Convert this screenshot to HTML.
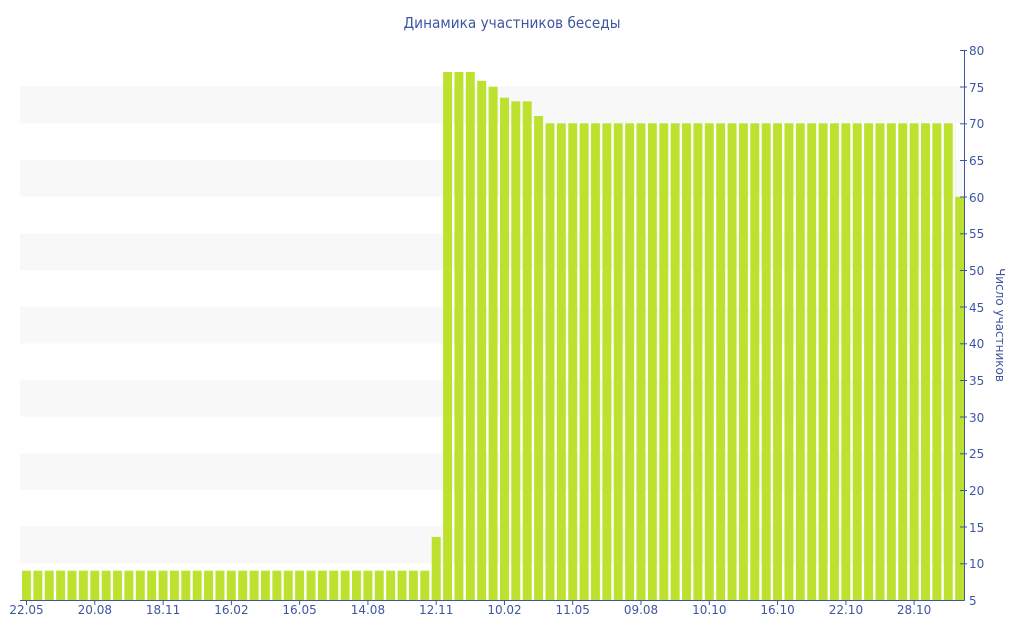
<!DOCTYPE html>
<html><head><meta charset="utf-8"><style>html,body{margin:0;padding:0;background:#fff}svg{display:block}</style></head>
<body>
<svg width="1024" height="640" viewBox="0 0 1024 640" xmlns="http://www.w3.org/2000/svg" font-family="'DejaVu Sans','Liberation Sans',sans-serif">
<defs>
<pattern id="bp" patternUnits="userSpaceOnUse" x="22" y="0" width="11.38" height="640">
<rect x="0" y="0" width="9" height="640" fill="#bde12f"/>
</pattern>
</defs>
<rect width="1024" height="640" fill="#fff"/>
<g fill="#f8f8f8">
<rect x="20" y="86.7" width="944" height="36.7"/>
<rect x="20" y="160" width="944" height="36.7"/>
<rect x="20" y="233.3" width="944" height="36.7"/>
<rect x="20" y="306.7" width="944" height="36.7"/>
<rect x="20" y="380" width="944" height="36.7"/>
<rect x="20" y="453.3" width="944" height="36.7"/>
<rect x="20" y="526.7" width="944" height="36.7"/>
</g>
<text x="512" y="28" text-anchor="middle" font-size="15" fill="#3e56a2" textLength="217" lengthAdjust="spacingAndGlyphs">Динамика участников беседы</text>
<rect x="22" y="570.7" width="409.7" height="29.3" fill="url(#bp)"/>
<rect x="545.5" y="123.3" width="409.7" height="476.7" fill="url(#bp)"/>
<g fill="#bde12f">
<rect x="431.7" y="536.9" width="9" height="63.1"/>
<rect x="443.1" y="72" width="9" height="528"/>
<rect x="454.4" y="72" width="9" height="528"/>
<rect x="465.8" y="72" width="9" height="528"/>
<rect x="477.2" y="80.8" width="9" height="519.2"/>
<rect x="488.6" y="86.7" width="9" height="513.3"/>
<rect x="500.0" y="97.7" width="9" height="502.3"/>
<rect x="511.3" y="101.3" width="9" height="498.7"/>
<rect x="522.7" y="101.3" width="9" height="498.7"/>
<rect x="534.1" y="116" width="9" height="484"/>
<rect x="955.2" y="196.7" width="9" height="403.3"/>
</g>
<g stroke="#3e56a2" stroke-width="1" fill="none">
<line x1="20" y1="600.5" x2="964.5" y2="600.5"/>
<line x1="964.5" y1="50" x2="964.5" y2="600.5"/>
</g>
<g stroke="#3e56a2" stroke-width="1">
<line x1="26.5" y1="600" x2="26.5" y2="605"/><line x1="94.8" y1="600" x2="94.8" y2="605"/><line x1="163.1" y1="600" x2="163.1" y2="605"/><line x1="231.4" y1="600" x2="231.4" y2="605"/><line x1="299.6" y1="600" x2="299.6" y2="605"/><line x1="367.9" y1="600" x2="367.9" y2="605"/><line x1="436.2" y1="600" x2="436.2" y2="605"/><line x1="504.5" y1="600" x2="504.5" y2="605"/><line x1="572.7" y1="600" x2="572.7" y2="605"/><line x1="641" y1="600" x2="641" y2="605"/><line x1="709.3" y1="600" x2="709.3" y2="605"/><line x1="777.6" y1="600" x2="777.6" y2="605"/><line x1="845.9" y1="600" x2="845.9" y2="605"/><line x1="914.1" y1="600" x2="914.1" y2="605"/>
</g>
<g stroke="#3e56a2" stroke-width="1">
<line x1="960" y1="50.5" x2="967" y2="50.5"/><line x1="960" y1="87" x2="967" y2="87"/><line x1="960" y1="123.8" x2="967" y2="123.8"/><line x1="960" y1="160.5" x2="967" y2="160.5"/><line x1="960" y1="197" x2="967" y2="197"/><line x1="960" y1="233.8" x2="967" y2="233.8"/><line x1="960" y1="270.5" x2="967" y2="270.5"/><line x1="960" y1="307" x2="967" y2="307"/><line x1="960" y1="343.8" x2="967" y2="343.8"/><line x1="960" y1="380.5" x2="967" y2="380.5"/><line x1="960" y1="417" x2="967" y2="417"/><line x1="960" y1="453.8" x2="967" y2="453.8"/><line x1="960" y1="490.5" x2="967" y2="490.5"/><line x1="960" y1="527" x2="967" y2="527"/><line x1="960" y1="563.8" x2="967" y2="563.8"/>
</g>
<g font-size="12" fill="#3e56a2" text-anchor="middle">
<text x="26.5" y="614">22.05</text><text x="94.8" y="614">20.08</text><text x="163.1" y="614">18.11</text><text x="231.4" y="614">16.02</text><text x="299.6" y="614">16.05</text><text x="367.9" y="614">14.08</text><text x="436.2" y="614">12.11</text><text x="504.5" y="614">10.02</text><text x="572.7" y="614">11.05</text><text x="641" y="614">09.08</text><text x="709.3" y="614">10.10</text><text x="777.6" y="614">16.10</text><text x="845.9" y="614">22.10</text><text x="914.1" y="614">28.10</text>
</g>
<g font-size="12" fill="#3e56a2">
<text x="969" y="55">80</text><text x="969" y="92">75</text><text x="969" y="128">70</text><text x="969" y="165">65</text><text x="969" y="202">60</text><text x="969" y="238">55</text><text x="969" y="275">50</text><text x="969" y="312">45</text><text x="969" y="348">40</text><text x="969" y="385">35</text><text x="969" y="422">30</text><text x="969" y="458">25</text><text x="969" y="495">20</text><text x="969" y="532">15</text><text x="969" y="568">10</text><text x="969" y="605">5</text>
</g>
<text transform="translate(996,325) rotate(90)" text-anchor="middle" font-size="12" fill="#3e56a2">Число участников</text>
</svg>
</body></html>
